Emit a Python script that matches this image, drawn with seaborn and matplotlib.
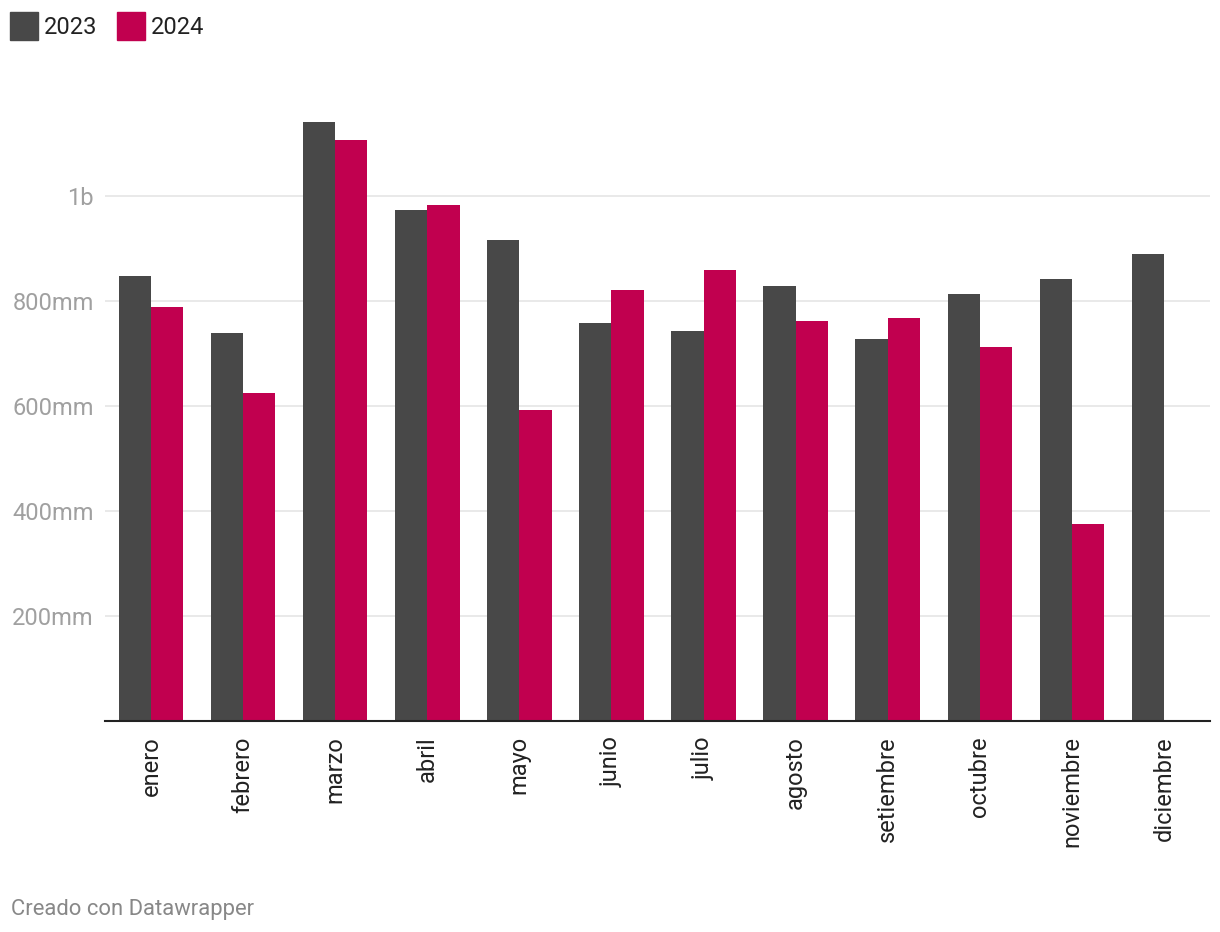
import numpy as np
import matplotlib
matplotlib.use('Agg')
import matplotlib.pyplot as plt
import seaborn as sns
import pandas as pd

# data
meses = ['enero', 'febrero', 'marzo', 'abril', 'mayo', 'junio', 'julio',
         'agosto', 'setiembre', 'octubre', 'noviembre', 'diciembre']
v2023 = [848, 739, 1141, 973, 916, 758, 743, 829, 728, 813, 842, 890]
v2024 = [789, 625, 1107, 983, 592, 821, 859, 762, 768, 712, 375, np.nan]
yticks = [200, 400, 600, 800, 1000]
ytick_labels = ['200mm', '400mm', '600mm', '800mm', '1b']

colores = {'2023': '#484848', '2024': '#c1004f'}

df = pd.DataFrame({
    'mes': meses * 2,
    'valor': v2023 + v2024,
    'serie': ['2023'] * len(meses) + ['2024'] * len(meses),
})

sns.set_style('white')
plt.rcParams['font.family'] = ['Roboto', 'DejaVu Sans']

fig = plt.figure(figsize=(12.2, 9.32), dpi=100)
ax = fig.add_axes([105 / 1220, 1 - 721 / 932, 1105 / 1220, 630 / 932])

sns.barplot(data=df, x='mes', y='valor', hue='serie', palette=colores,
            width=0.7, gap=0, saturation=1, ax=ax, legend=False,
            linewidth=0)

ax.set_xlim(-0.5, 11.5)
ax.set_ylim(0, 1200)
ax.set_yticks(yticks)
ax.set_yticklabels(ytick_labels)
ax.set_xlabel('')
ax.set_ylabel('')

for s in ['top', 'right', 'left']:
    ax.spines[s].set_visible(False)
ax.spines['bottom'].set_color('#222222')
ax.spines['bottom'].set_linewidth(1.5)
ax.spines['bottom'].set_zorder(5)

ax.yaxis.grid(True, color='#e3e3e3', linewidth=1.1)
ax.set_axisbelow(True)
ax.tick_params(axis='y', length=0, pad=8, labelsize=17, labelcolor='#a0a0a0')
ax.tick_params(axis='x', length=0, pad=11, labelsize=17, labelcolor='#222222',
               labelrotation=90)
for lbl in ax.get_xticklabels():
    lbl.set_verticalalignment('top')

# legend
handles = [plt.Rectangle((0, 0), 1, 1, color=colores[k]) for k in ['2023', '2024']]
fig.legend(handles, ['2023', '2024'], loc='upper left',
           bbox_to_anchor=(10 / 1220, 1 - 12 / 932), ncol=2, frameon=False,
           fontsize=17, handlelength=1.2, handleheight=1.45,
           handletextpad=0.25, columnspacing=0.8, borderpad=0,
           borderaxespad=0, labelcolor='#222222')

fig.text(11 / 1220, 1 - 909 / 932, 'Creado con Datawrapper', fontsize=15.8,
         color='#888888', va='center', ha='left')

fig.savefig('out.png', dpi=100)
